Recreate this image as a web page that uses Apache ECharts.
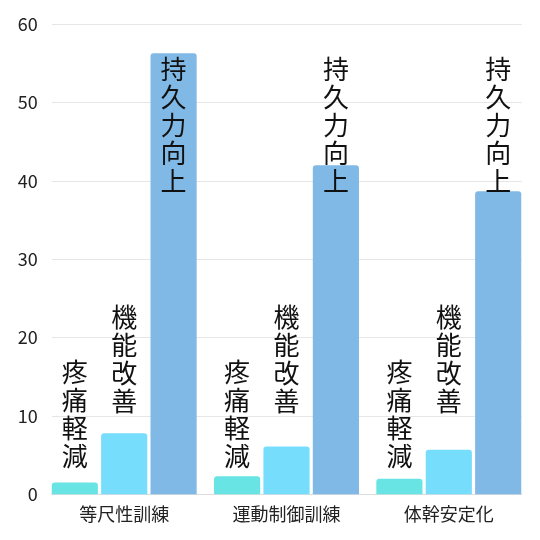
<!DOCTYPE html>
<html>
<head>
<meta charset="utf-8">
<script src="https://cdn.jsdelivr.net/npm/echarts@6/dist/echarts.min.js"></script>
<style>
html,body{margin:0;padding:0;background:#fff;}
#chart{width:540px;height:540px;}
</style>
</head>
<body>
<div id="chart"></div>
<script>
const categories = ['等尺性訓練', '運動制御訓練', '体幹安定化'];
const seriesNames = ['疼痛軽減', '機能改善', '持久力向上'];
const painRelief = [1.5, 2.3, 2.0];
const functionImprovement = [7.8, 6.1, 5.7];
const endurance = [56.3, 42.0, 38.7];
const yMin = 0, yMax = 60, yInterval = 10;

const seriesData = [painRelief, functionImprovement, endurance];
const colors = ['#68E4E4', '#76DDFD', '#80B9E6'];
const labelLift = [24.5, 79.5, 299.5];
const FONT = '"Noto Sans CJK JP", "Noto Sans", sans-serif';

const chart = echarts.init(document.getElementById('chart'), null, {renderer: 'canvas'});
chart.setOption({
  backgroundColor: '#ffffff',
  animation: false,
  grid: [
    {left: 51.7, right: 18.3, top: 24.3, bottom: 45.7},
    {left: 43.05, right: 10.05, top: 24.3, bottom: 45.7}
  ],
  xAxis: [
    {
      gridIndex: 0, type: 'category', data: categories,
      axisLine: {show: true, lineStyle: {color: '#dddddd', width: 1}},
      axisTick: {show: false}, axisLabel: {show: false}
    },
    {
      gridIndex: 1, type: 'category', data: categories,
      axisLine: {show: false}, axisTick: {show: false},
      axisLabel: {color: '#222', fontSize: 18, fontFamily: FONT, margin: 11}
    }
  ],
  yAxis: [
    {
      gridIndex: 0, type: 'value', min: yMin, max: yMax, interval: yInterval,
      axisLine: {show: false}, axisTick: {show: false},
      axisLabel: {color: '#222', fontSize: 18, fontFamily: FONT, margin: 14},
      splitLine: {lineStyle: {color: '#e6e6e6', width: 1}}
    },
    {
      gridIndex: 1, type: 'value', min: yMin, max: yMax, interval: yInterval,
      show: false, splitLine: {show: false}
    }
  ],
  series: seriesNames.map((name, i) => ({
    name: name,
    type: 'bar',
    xAxisIndex: 1, yAxisIndex: 1,
    data: seriesData[i],
    barGap: '7%',
    barCategoryGap: '10.7%',
    itemStyle: {color: colors[i], borderRadius: [3, 3, 0, 0]},
    label: {
      show: true,
      position: 'insideBottom',
      distance: 0,
      offset: [0, -labelLift[i]],
      formatter: () => name.split('').join('\n'),
      color: '#111',
      fontSize: 26,
      lineHeight: 28,
      fontFamily: FONT
    }
  }))
});
</script>
</body>
</html>
